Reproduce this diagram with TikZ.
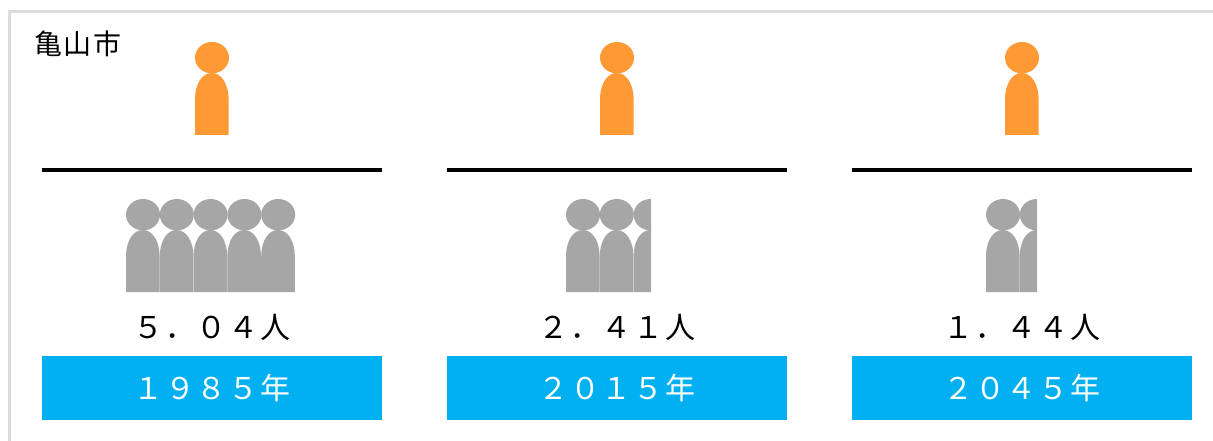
\documentclass[tikz,border=0pt]{standalone}
\usepackage{fontspec}
\newfontfamily\jpfont[LetterSpace=6]{Noto Sans CJK JP}
\newfontfamily\jpwide[LetterSpace=6.5]{Noto Sans CJK JP}
\definecolor{personorange}{HTML}{FF9933}
\definecolor{persongray}{HTML}{A6A6A6}
\definecolor{yearblue}{HTML}{00B0F0}
\definecolor{framegray}{HTML}{DCDCDC}
\newcommand{\personshape}[3]{% left x, top y, colour
  \fill[#3] (#1+17,#2+15.7) ellipse [x radius=17, y radius=15.7];
  \fill[#3] (#1,#2+93) -- (#1,#2+58) .. controls (#1,#2+41) and (#1+7.6,#2+31) .. (#1+16.8,#2+31)
     .. controls (#1+26,#2+31) and (#1+33.6,#2+41) .. (#1+33.6,#2+58) -- (#1+33.6,#2+93) -- cycle;
}
\tikzset{
  x=1pt,y=-1pt,
  countlabel/.style={font=\fontsize{30}{32}\jpwide,text=black,anchor=base,inner sep=0pt},
  yearlabel/.style={font=\fontsize{30}{32}\jpwide,text=white,anchor=base,inner sep=0pt},
  titlelabel/.style={font=\fontsize{28}{30}\jpfont,text=black,anchor=base west,inner sep=0pt},
  divider/.style={draw=black,line width=4pt},
  yearbar/.style={fill=yearblue,draw=none,minimum width=340pt,minimum height=64pt,inner sep=0pt},
}
\begin{document}
\begin{tikzpicture}
\useasboundingbox (0,0) rectangle (1213,441);
\fill[white] (0,0) rectangle (1213,441);
\draw[framegray,line width=3pt] (9,441) -- (9,12) -- (1213,12);
\node[titlelabel] (title) at (34,55) {亀山市};
% column 1
\personshape{195}{42}{personorange}
\coordinate (a1) at (42,170); \coordinate (b1) at (382,170);
\draw[divider] (a1) -- (b1);
\begin{scope}
  \clip (126,195) rectangle (295,292);
  \foreach \i in {0,1,2,3,4} {\personshape{126+33.8*\i}{199}{persongray}}
\end{scope}
\node[countlabel] (count1) at (212,338) {５．０４人};
\node[yearbar] (bar1) at (212,388) {};
\node[yearlabel] (year1) at (212,399) {１９８５年};
% column 2
\personshape{600}{42}{personorange}
\coordinate (a2) at (447,170); \coordinate (b2) at (787,170);
\draw[divider] (a2) -- (b2);
\begin{scope}
  \clip (566,195) rectangle (651,292);
  \foreach \i in {0,1,2} {\personshape{566+33.8*\i}{199}{persongray}}
\end{scope}
\node[countlabel] (count2) at (617,338) {２．４１人};
\node[yearbar] (bar2) at (617,388) {};
\node[yearlabel] (year2) at (617,399) {２０１５年};
% column 3
\personshape{1005}{42}{personorange}
\coordinate (a3) at (852,170); \coordinate (b3) at (1192,170);
\draw[divider] (a3) -- (b3);
\begin{scope}
  \clip (986,195) rectangle (1037,292);
  \foreach \i in {0,1} {\personshape{986+33.8*\i}{199}{persongray}}
\end{scope}
\node[countlabel] (count3) at (1022,338) {１．４４人};
\node[yearbar] (bar3) at (1022,388) {};
\node[yearlabel] (year3) at (1022,399) {２０４５年};
\end{tikzpicture}
\end{document}
